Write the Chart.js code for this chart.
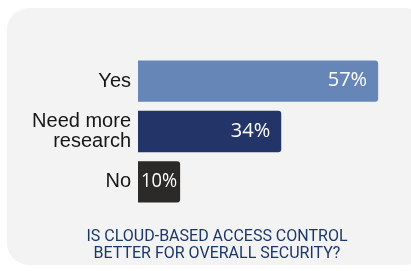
<!DOCTYPE html>
<html lang="en">
<head>
  <meta charset="UTF-8" />
  <title>Cloud-based access control</title>
  <script src="https://cdn.jsdelivr.net/npm/chart.js"></script>
  <style>
    html, body {
      margin: 0;
      background: #ffffff;
      overflow: hidden;
    }
    /* light grey card, runs off the right edge like the original */
    .card {
      position: absolute;
      left: 7px;
      top: 8px;
      width: 420px;
      height: 257px;
      border-radius: 22px;
      background: #f3f3f3;
    }
  </style>
</head>
<body>
  <div class="card">
    <canvas id="pollChart" width="420" height="257"></canvas>
  </div>

  <script>
    // Data
    const answers = [['Yes'], ['Need more', 'research'], ['No']];
    const shares = [57, 34, 10];
    const barColors = ['#6786b8', '#223468', '#2c2a28'];
    const question = ['IS CLOUD-BASED ACCESS CONTROL', 'BETTER FOR OVERALL SECURITY?'];
    const axisMax = 68.6; // leaves the empty space right of the longest bar

    // White % labels at the end of each bar
    const valueLabels = {
      id: 'valueLabels',
      afterDatasetsDraw(chart) {
        const ctx = chart.ctx;
        const meta = chart.getDatasetMeta(0);
        ctx.save();
        ctx.fillStyle = '#ffffff';
        ctx.font = '20px "Open Sans", sans-serif';
        ctx.textBaseline = 'alphabetic';
        meta.data.forEach((bar, i) => {
          const text = shares[i] + '%';
          const w = ctx.measureText(text).width;
          const barW = bar.x - bar.base;
          if (w + 15 <= barW) {
            ctx.textAlign = 'right';
            ctx.fillText(text, bar.x - 11, bar.y + 5);
          } else {
            ctx.textAlign = 'left';
            ctx.fillText(text, bar.base + 3, bar.y + 5, barW - 6);
          }
        });
        ctx.restore();
      }
    };

    new Chart(document.getElementById('pollChart'), {
      type: 'bar',
      data: {
        labels: answers,
        datasets: [{
          data: shares,
          backgroundColor: barColors,
          borderRadius: 3,
          borderSkipped: 'start',
          categoryPercentage: 1,
          barPercentage: 0.82
        }]
      },
      options: {
        indexAxis: 'y',
        responsive: false,
        animation: false,
        layout: { padding: { top: 48, right: 0, left: 0, bottom: 0 } },
        scales: {
          x: {
            display: false,
            min: 0,
            max: axisMax
          },
          y: {
            grid: { display: false, drawTicks: false, tickLength: 0 },
            border: { display: false },
            afterFit(scale) { scale.width = 131; },
            ticks: {
              color: '#161616',
              padding: 7,
              font: { family: '"Liberation Sans", Arial, sans-serif', size: 20, lineHeight: 1 }
            }
          }
        },
        plugins: {
          legend: { display: false },
          tooltip: { enabled: false },
          title: {
            display: true,
            position: 'bottom',
            text: question,
            color: '#1b3768',
            font: { family: 'Roboto, sans-serif', size: 16, weight: 'normal', lineHeight: 17 / 16 },
            padding: { top: 21, bottom: 3 }
          }
        }
      },
      plugins: [valueLabels]
    });
  </script>
</body>
</html>
